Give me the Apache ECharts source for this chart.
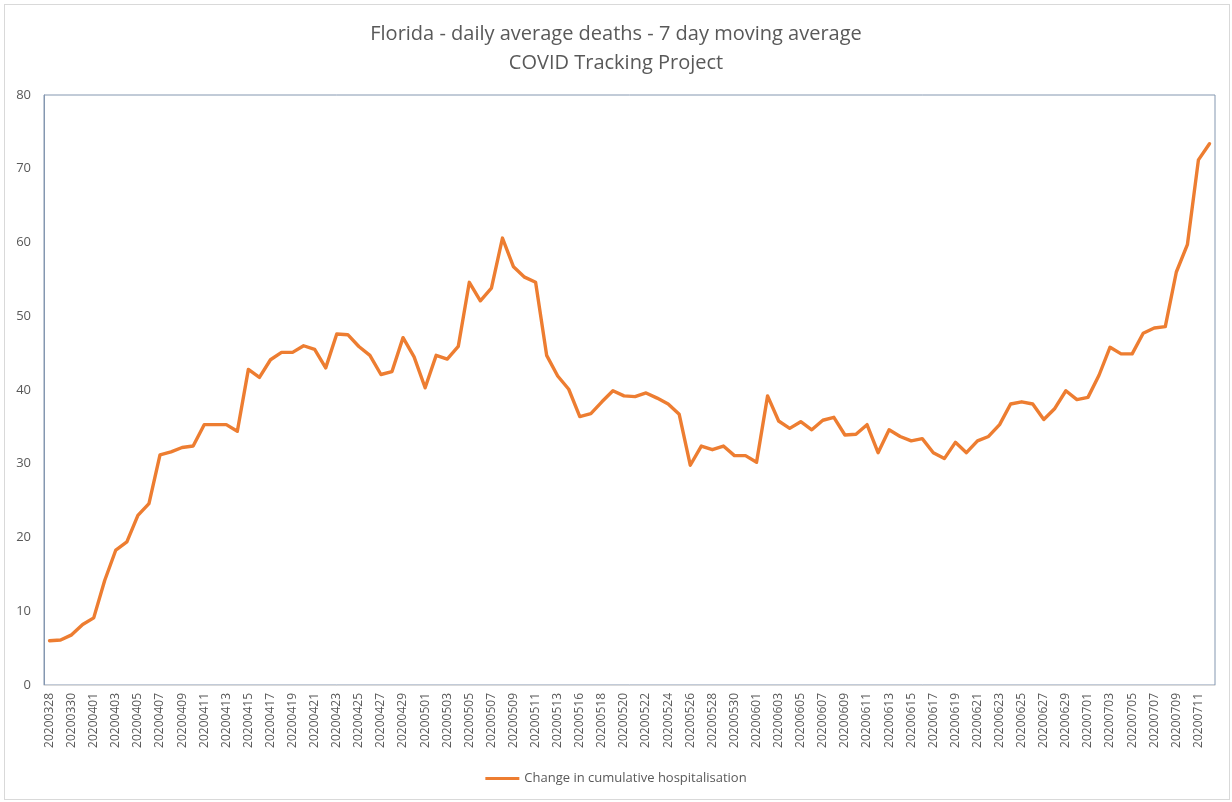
<!DOCTYPE html>
<html>
<head>
<meta charset="utf-8">
<script src="https://cdn.jsdelivr.net/npm/echarts@6/dist/echarts.min.js"></script>
<style>
html,body{margin:0;padding:0;background:#fff;}
#frame{position:absolute;left:4px;top:4px;width:1226px;height:796px;border:1px solid #d9d9d9;box-sizing:border-box;}
#chart{position:absolute;left:0;top:0;width:1232px;height:802px;}
</style>
</head>
<body>
<div id="frame"></div>
<div id="chart"></div>
<script>
const titleLines = ["Florida - daily average deaths - 7 day moving average", "COVID Tracking Project"];
const seriesName = "Change in cumulative hospitalisation";
const dates = [
"20200328","20200329","20200330","20200331",
"20200401","20200402","20200403","20200404","20200405","20200406","20200407","20200408","20200409","20200410",
"20200411","20200412","20200413","20200414","20200415","20200416","20200417","20200418","20200419","20200420",
"20200421","20200422","20200423","20200424","20200425","20200426","20200427","20200428","20200429","20200430",
"20200501","20200502","20200503","20200504","20200505","20200506","20200507","20200508","20200509","20200510",
"20200511","20200512","20200513","20200514","20200516","20200517","20200518","20200519","20200520","20200521",
"20200522","20200523","20200524","20200525","20200526","20200527","20200528","20200529","20200530","20200531",
"20200601","20200602","20200603","20200604","20200605","20200606","20200607","20200608","20200609","20200610",
"20200611","20200612","20200613","20200614","20200615","20200616","20200617","20200618","20200619","20200620",
"20200621","20200622","20200623","20200624","20200625","20200626","20200627","20200628","20200629","20200630",
"20200701","20200702","20200703","20200704","20200705","20200706","20200707","20200708","20200709","20200710",
"20200711","20200712"
];
const deaths = [
6.0, 6.1, 6.8, 8.2, 9.1, 14.2, 18.3, 19.4, 23.0, 24.6,
31.2, 31.6, 32.2, 32.4, 35.3, 35.3, 35.3, 34.4, 42.8, 41.7,
44.1, 45.1, 45.1, 46.0, 45.5, 43.0, 47.6, 47.5, 45.9, 44.7,
42.1, 42.5, 47.1, 44.5, 40.3, 44.7, 44.2, 45.9, 54.6, 52.1,
53.8, 60.6, 56.7, 55.3, 54.6, 44.7, 41.9, 40.1, 36.4, 36.8,
38.4, 39.9, 39.2, 39.1, 39.6, 38.9, 38.1, 36.7, 29.8, 32.4,
31.9, 32.4, 31.1, 31.1, 30.2, 39.2, 35.8, 34.8, 35.7, 34.6,
35.9, 36.3, 33.9, 34.0, 35.3, 31.5, 34.6, 33.7, 33.1, 33.4,
31.5, 30.7, 32.9, 31.5, 33.1, 33.7, 35.3, 38.1, 38.4, 38.1,
36.0, 37.5, 39.9, 38.7, 39.0, 42.0, 45.8, 44.9, 44.9, 47.7,
48.4, 48.6, 56.0, 59.7, 71.2, 73.4
];
const yMin = 0, yMax = 80, yStep = 10;

const chart = echarts.init(document.getElementById('chart'), null, {renderer: 'canvas'});
const font = 'Open Sans, Noto Sans, sans-serif';
chart.setOption({
  animation: false,
  backgroundColor: 'transparent',
  title: {
    text: titleLines.join('\n'),
    left: 'center',
    top: 15,
    textStyle: {fontFamily: font, fontSize: 20, fontWeight: 'normal', color: '#595959', lineHeight: 29}
  },
  legend: {
    bottom: 12,
    left: 'center',
    icon: 'rect',
    itemWidth: 34,
    itemHeight: 3,
    itemGap: 4,
    textStyle: {fontFamily: font, fontSize: 13, color: '#595959'},
    data: [seriesName]
  },
  grid: {left: 44, right: 17, top: 95, bottom: 117, show: true, borderColor: '#8497b0', borderWidth: 1},
  xAxis: {
    type: 'category',
    data: dates,
    boundaryGap: true,
    axisLine: {show: true, lineStyle: {color: '#d9d9d9', width: 1}},
    axisTick: {show: false},
    axisLabel: {interval: 1, rotate: 90, fontFamily: font, fontSize: 12, color: '#595959', margin: 8}
  },
  yAxis: {
    type: 'value',
    min: yMin, max: yMax, interval: yStep,
    axisLine: {show: true, lineStyle: {color: '#8497b0', width: 1}},
    axisTick: {show: false},
    splitLine: {show: false},
    axisLabel: {fontFamily: font, fontSize: 13, color: '#595959', margin: 13}
  },
  series: [{
    name: seriesName,
    type: 'line',
    data: deaths,
    showSymbol: false,
    symbol: 'none',
    itemStyle: {color: '#ED7D31'},
    lineStyle: {color: '#ED7D31', width: 3.4, cap: 'round', join: 'round'}
  }]
});
</script>
</body>
</html>
